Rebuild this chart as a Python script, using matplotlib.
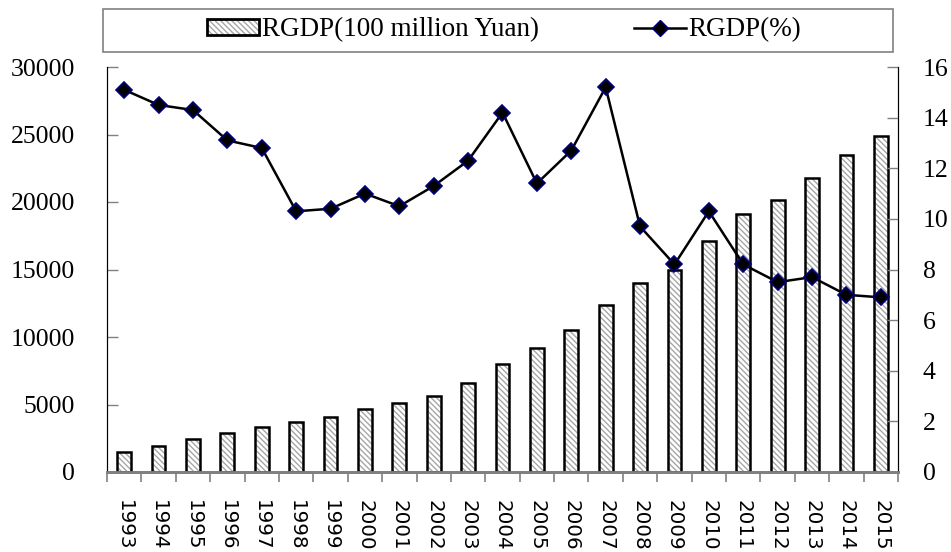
import matplotlib
matplotlib.use("Agg")
import matplotlib.pyplot as plt
import numpy as np
from matplotlib.patches import Patch, Rectangle
from matplotlib.lines import Line2D
from matplotlib.legend_handler import HandlerTuple

years = [str(y) for y in range(1993, 2016)]

# real GDP level, 100 million Yuan
rgdp_level = [1450, 1930, 2420, 2870, 3360, 3730, 4100, 4670, 5140, 5630,
              6590, 8000, 9190, 10520, 12400, 14030, 14960, 17090, 19110,
              20120, 21750, 23480, 24890]

# real GDP growth, %
rgdp_growth = [15.1, 14.5, 14.3, 13.1, 12.8, 10.3, 10.4, 11.0, 10.5, 11.3,
               12.3, 14.2, 11.4, 12.7, 15.2, 9.7, 8.2, 10.3, 8.2, 7.5,
               7.7, 7.0, 6.9]

SERIF = "Liberation Serif"
GRAY = "#808080"
HATCH_GRAY = "#a6a6a6"

fig = plt.figure(figsize=(9.51, 5.52), dpi=100)
ax = fig.add_axes([107 / 951, 80 / 552, 791 / 951, 405 / 552])
ax2 = ax.twinx()

x = np.arange(len(years))
width = 0.40

# hatched fill first, then the black outline on top
ax.bar(x, rgdp_level, width, color="white", edgecolor=HATCH_GRAY,
       hatch="\\\\\\\\\\\\", linewidth=0, zorder=2)
ax.bar(x, rgdp_level, width, color="none", edgecolor="black",
       linewidth=1.8, zorder=3)

ax2.plot(x, rgdp_growth, color="black", linewidth=1.8, marker="D",
         markersize=8.5, markerfacecolor="black", markeredgecolor="#000080",
         markeredgewidth=1.2, zorder=4)

ax.set_xlim(-0.5, len(years) - 0.5)
ax.set_ylim(0, 30000)
ax2.set_ylim(0, 16)
ax.set_yticks(np.arange(0, 30001, 5000))
ax2.set_yticks(np.arange(0, 17, 2))

ax.set_xticks(x)
ax.set_xticklabels(years, rotation=270, fontsize=14.3, family="DejaVu Sans")
ax.set_xticks(np.arange(-0.5, len(years), 1), minor=True)
ax.tick_params(axis="x", which="major", length=0, pad=20)
ax.tick_params(axis="x", which="minor", length=7, width=1.2, color=GRAY,
               direction="out")
ax.tick_params(axis="y", direction="in", length=8, width=1, color=GRAY,
               pad=23, labelsize=18.5)
ax2.tick_params(axis="y", direction="in", length=8, width=1, color=GRAY,
                pad=18, labelsize=18.5)
for lab in ax.get_yticklabels() + ax2.get_yticklabels():
    lab.set_family(SERIF)

for a in (ax, ax2):
    a.spines["top"].set_visible(False)
    a.spines["left"].set_color("black")
    a.spines["right"].set_color("black")
    a.spines["bottom"].set_color(GRAY)
    a.spines["bottom"].set_linewidth(2)
ax.set_zorder(ax2.get_zorder() - 1)
ax2.patch.set_visible(False)

# legend with its own grey frame across the top
bar_handle = (Patch(facecolor="white", edgecolor=HATCH_GRAY,
                    hatch="\\\\\\\\\\\\", linewidth=0),
              Patch(facecolor="none", edgecolor="black", linewidth=2))
line_handle = Line2D([], [], color="black", linewidth=1.8, marker="D",
                     markersize=8.5, markerfacecolor="black",
                     markeredgecolor="#000080")
fig.legend([bar_handle, line_handle],
           ["RGDP(100 million Yuan)", "RGDP(%)"],
           handler_map={tuple: HandlerTuple(ndivide=1)},
           loc="center", bbox_to_anchor=(504 / 951, 1 - 30 / 552), ncol=2,
           frameon=False, prop={"family": SERIF, "size": 19.5},
           handlelength=1.92, handleheight=0.52, handletextpad=0.1,
           columnspacing=3.5, borderpad=0, borderaxespad=0)
fig.add_artist(Rectangle((103 / 951, 1 - 52 / 552), 790 / 951, 43 / 552,
                         transform=fig.transFigure, fill=False,
                         edgecolor=GRAY, linewidth=1.2))

fig.savefig("out.png", dpi=100)
